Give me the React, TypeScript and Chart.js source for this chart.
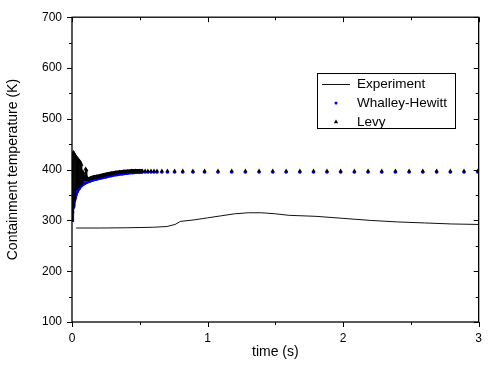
import React, { useEffect, useRef } from 'react';
import { Chart, registerables } from 'chart.js';

Chart.register(...registerables);
Chart.defaults.font.family = "'Liberation Sans', Arial, sans-serif";

// Experiment (measured containment temperature)
const expTime = [0.03, 0.2, 0.4, 0.6, 0.7, 0.76, 0.8, 0.9, 1.0, 1.1, 1.2, 1.3, 1.4, 1.5, 1.6, 1.8, 2.0, 2.2, 2.4, 2.6, 2.8, 3.0];
const expTemp = [285, 285, 285.5, 286.5, 288, 292, 298, 301, 305, 309, 313, 315, 315, 313, 310, 308, 304, 300, 297, 295, 293, 292];

// Output times of the sparse simulation points (both models)
const sparseTime = [0.627, 0.663, 0.704, 0.757, 0.817, 0.892, 0.978, 1.077, 1.178, 1.279, 1.38, 1.481, 1.58, 1.681, 1.782, 1.881, 1.982, 2.083, 2.184, 2.285, 2.386, 2.487, 2.588, 2.69, 2.791, 2.892, 2.993];

// Whalley-Hewitt: dense early output
const whDenseTime = [0, 0.003, 0.006, 0.01, 0.014, 0.018, 0.024, 0.03, 0.04, 0.054, 0.07, 0.09, 0.11, 0.13, 0.15, 0.18, 0.21, 0.25, 0.29, 0.33, 0.37, 0.41, 0.45, 0.48, 0.5, 0.52, 0.54, 0.56, 0.583, 0.605];
const whDenseTemp = [300, 312, 321, 328, 334, 339, 345, 350, 357, 363, 368, 372, 375, 377, 379, 381, 383, 385.5, 388, 390, 391.5, 393, 394, 394.5, 395, 395, 395, 395, 395, 395];
const whSparseTemp = [395, 395, 395, 395, 395, 395, 395, 395, 395, 395, 395, 395, 395, 395, 395, 395, 395, 395, 395, 395, 395, 395, 395, 395, 395, 395, 395];

// Levy: dense early output (oscillating start)
const levyDenseTime = [0, 0.002, 0.004, 0.006, 0.008, 0.01, 0.012, 0.014, 0.016, 0.018, 0.02, 0.022, 0.024,
  0.027, 0.03, 0.033, 0.036, 0.039, 0.042, 0.045, 0.048, 0.051, 0.054, 0.057, 0.06, 0.063, 0.066, 0.069, 0.072,
  0.076, 0.08, 0.084, 0.088, 0.092, 0.096, 0.1, 0.103, 0.106, 0.109, 0.112, 0.116, 0.12,
  0.14, 0.16, 0.18, 0.2, 0.23, 0.26, 0.29, 0.32, 0.35, 0.38, 0.41, 0.44, 0.47, 0.5, 0.52, 0.54, 0.56, 0.583, 0.605];
const levyDenseTemp = [300, 410, 318, 430, 326, 434, 332, 432, 338, 430, 342, 428, 346,
  426, 362, 424, 364, 422, 366, 420, 368, 418, 370, 416, 371, 414, 372, 410, 374,
  396, 377, 394, 379, 386, 380, 401, 381, 399, 380, 384, 381, 381,
  383, 385, 386, 387, 389, 391, 392.5, 394, 395, 396, 396.5, 397, 397, 397, 397, 397, 397, 397, 397];
const levySparseTemp = [397, 397, 397, 397, 397, 397, 397, 397, 397, 397, 397, 397, 397, 397, 397, 397, 397, 397, 397, 397, 397, 397, 397, 397, 397, 397, 397];

const seriesLabels = ['Experiment', 'Whalley-Hewitt', 'Levy'];
const xTitle = 'time (s)';
const yTitle = 'Containment temperature (K)';
const xMajorTicks = [0, 1, 2, 3];
const xMinorTicks = [0.5, 1.5, 2.5];
const yMajorTicks = [100, 200, 300, 400, 500, 600, 700];
const yMinorTicks = [150, 250, 350, 450, 550, 650];

const OSC_END = 0.12;
const DENSE_END = 0.52;

function pts(xs: number[], ys: number[]) {
  return xs.map((x, i) => ({ x, y: ys[i] }));
}

export default function App() {
  const ref = useRef<HTMLCanvasElement>(null);
  useEffect(() => {
    if (!ref.current) return;
    const framePlugin = {
      id: 'frame',
      afterDraw(chart: any) {
        const { ctx, chartArea } = chart;
        const { left, right, top, bottom } = chartArea;
        const xs = chart.scales.x;
        const ys = chart.scales.y;
        ctx.save();
        ctx.strokeStyle = '#000';
        ctx.lineWidth = 1.3;
        ctx.strokeRect(left, top, right - left, bottom - top);
        ctx.lineWidth = 1;
        const tick = (x1: number, y1: number, x2: number, y2: number) => {
          ctx.beginPath();
          ctx.moveTo(x1, y1);
          ctx.lineTo(x2, y2);
          ctx.stroke();
        };
        xMajorTicks.forEach((v) => {
          const p = Math.round(xs.getPixelForValue(v)) + 0.5;
          tick(p, bottom, p, bottom + 5);
          tick(p, top, p, top + 5);
        });
        xMinorTicks.forEach((v) => {
          const p = Math.round(xs.getPixelForValue(v)) + 0.5;
          tick(p, bottom, p, bottom + 3);
          tick(p, top, p, top + 3);
        });
        yMajorTicks.forEach((v) => {
          const p = Math.round(ys.getPixelForValue(v)) + 0.5;
          tick(left - 5, p, left, p);
          tick(right - 5, p, right, p);
        });
        yMinorTicks.forEach((v) => {
          const p = Math.round(ys.getPixelForValue(v)) + 0.5;
          tick(left - 3, p, left, p);
          tick(right - 3, p, right, p);
        });

        // legend
        const lx = 317.5, ly = 73.5, lw = 138, lh = 55;
        ctx.fillStyle = '#fff';
        ctx.fillRect(lx, ly, lw, lh);
        ctx.strokeStyle = '#000';
        ctx.lineWidth = 1;
        ctx.strokeRect(lx, ly, lw, lh);
        const rows = [84, 103, 122];
        ctx.font = "13.5px 'Liberation Sans', Arial, sans-serif";
        ctx.textBaseline = 'middle';
        ctx.textAlign = 'left';
        ctx.fillStyle = '#000';
        rows.forEach((ry, i) => ctx.fillText(seriesLabels[i], 357, ry));
        ctx.strokeStyle = '#111';
        tick(322, rows[0] + 0.5, 350, rows[0] + 0.5);
        ctx.fillStyle = '#0000ff';
        ctx.beginPath();
        ctx.arc(336, rows[1], 1.5, 0, Math.PI * 2);
        ctx.fill();
        ctx.fillStyle = '#000';
        ctx.beginPath();
        ctx.moveTo(336, rows[2] - 2.5);
        ctx.lineTo(338.2, rows[2] + 1.3);
        ctx.lineTo(333.8, rows[2] + 1.3);
        ctx.closePath();
        ctx.fill();
        ctx.restore();
      },
    };

    const chart = new Chart(ref.current, {
      type: 'scatter',
      data: {
        datasets: [
          {
            label: seriesLabels[0],
            data: pts(expTime, expTemp),
            showLine: true,
            borderColor: '#111',
            borderWidth: 1,
            pointRadius: 0,
            tension: 0,
            order: 2,
          },
          {
            label: seriesLabels[1],
            data: pts([...whDenseTime, ...sparseTime], [...whDenseTemp, ...whSparseTemp]),
            showLine: true,
            tension: 0,
            pointStyle: 'circle',
            pointRadius: 1.5,
            pointBackgroundColor: '#0000ff',
            pointBorderWidth: 0,
            borderColor: '#0000ff',
            borderWidth: 3,
            segment: {
              borderColor: (c: any) => (c.p1.parsed.x <= DENSE_END ? '#0000ff' : 'rgba(0,0,0,0)'),
            },
            order: 1,
          },
          {
            label: seriesLabels[2],
            data: pts([...levyDenseTime, ...sparseTime], [...levyDenseTemp, ...levySparseTemp]),
            showLine: true,
            tension: 0,
            pointStyle: 'triangle',
            pointRadius: 2.5,
            pointBackgroundColor: '#000',
            pointBorderWidth: 0,
            borderColor: '#000',
            borderWidth: 4,
            segment: {
              borderColor: (c: any) => (c.p1.parsed.x <= DENSE_END ? '#000' : 'rgba(0,0,0,0)'),
              borderWidth: (c: any) => (c.p1.parsed.x <= OSC_END ? 1 : 4),
            },
            order: 0,
          },
        ],
      } as any,
      options: {
        animation: false,
        responsive: true,
        maintainAspectRatio: false,
        events: [],
        layout: { padding: { top: 16, right: 3, left: 0, bottom: 0 } },
        plugins: { legend: { display: false }, tooltip: { enabled: false } },
        scales: {
          x: {
            type: 'linear',
            min: 0,
            max: 3,
            afterBuildTicks: (s: any) => {
              s.ticks = xMajorTicks.map((v) => ({ value: v }));
            },
            ticks: { color: '#000', font: { size: 12 }, padding: 9, callback: (v: any) => String(v) },
            grid: { display: false, drawTicks: false },
            border: { display: false },
            title: { display: true, text: xTitle, color: '#000', font: { size: 14 }, padding: { top: 0, bottom: 8 } },
            afterFit: (s: any) => {
              s.height = 47;
            },
          },
          y: {
            type: 'linear',
            min: 100,
            max: 700,
            afterBuildTicks: (s: any) => {
              s.ticks = yMajorTicks.map((v) => ({ value: v }));
            },
            ticks: { color: '#000', font: { size: 12 }, padding: 10, callback: (v: any) => String(v) },
            grid: { display: false, drawTicks: false },
            border: { display: false },
            title: { display: true, text: yTitle, color: '#000', font: { size: 14 }, padding: { top: 5, bottom: 0 } },
            afterFit: (s: any) => {
              s.width = 72;
            },
          },
        },
      } as any,
      plugins: [framePlugin],
    });
    return () => chart.destroy();
  }, []);

  return (
    <div style={{ position: 'fixed', left: 0, top: 0, width: 491, height: 369, background: '#fff' }}>
      <canvas ref={ref} />
    </div>
  );
}
